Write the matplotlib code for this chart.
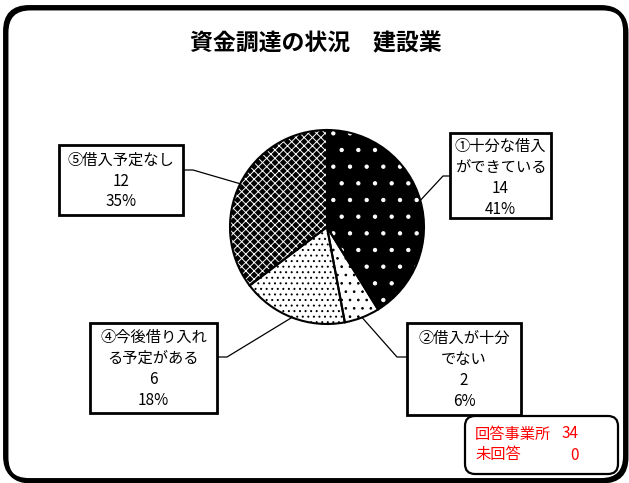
import matplotlib
matplotlib.use('Agg')
import matplotlib.pyplot as plt
from matplotlib.patches import Rectangle, FancyBboxPatch
import numpy as np

plt.rcParams['font.family'] = ['Noto Sans CJK JP', 'DejaVu Sans']
plt.rcParams['hatch.linewidth'] = 0.7

# data
title = '資金調達の状況　建設業'
categories = ['①十分な借入\nができている', '②借入が十分\nでない', '③借入できない',
              '④今後借り入れ\nる予定がある', '⑤借入予定なし']
counts = [14, 2, 0, 6, 12]
n_answered = 34
n_unanswered = 0

W, H = 629, 483


def py(y):
    # pixel row -> data y
    return H - y


fig = plt.figure(figsize=(W / 100, H / 100), dpi=100)
ax = fig.add_axes([0, 0, 1, 1])

# slice styles (face, hatch, hatch colour)
styles = {
    0: ('black', '.', 'white'),
    1: ('white', '..', 'black'),
    3: ('white', '...', 'black'),
    4: ('black', 'xxxx', 'white'),
}

idx = [i for i, c in enumerate(counts) if c > 0]
vals = [counts[i] for i in idx]
center = (327, py(227))
radius = 97

wedges, _ = ax.pie(vals, center=center, radius=radius, startangle=90,
                   counterclock=False, colors=[styles[i][0] for i in idx],
                   wedgeprops=dict(linewidth=0))
for w, i in zip(wedges, idx):
    w.set_hatch(styles[i][1])
    w.set_edgecolor(styles[i][2])
    w.set_linewidth(0)

outl, _ = ax.pie(vals, center=center, radius=radius, startangle=90,
                 counterclock=False, colors=['none'] * len(vals),
                 wedgeprops=dict(edgecolor='black', linewidth=1.5, fill=False))

ax.set_xlim(0, W)
ax.set_ylim(0, H)
ax.set_aspect('equal')
ax.axis('off')

# outer frame (with a slight shadow at bottom right)
for dx, dy in [(1.5, -1.5), (0, 0)]:
    ax.add_patch(FancyBboxPatch((5 + dx, py(480) + dy), 620, 473,
                                boxstyle='round,pad=0,rounding_size=24',
                                facecolor='none', edgecolor='black',
                                linewidth=2.8))

ax.text(316, py(44), title, ha='center', va='center', fontsize=16.5,
        fontweight='bold')

total = sum(counts)
# label boxes: (x0, y0, x1, y1), text centre y, elbow, box attach
boxes = {
    0: ((450, 133, 551, 218), 178, (443, 176), (450, 176)),
    1: ((407, 323, 521, 415), 370, (397, 357), (407, 357)),
    3: ((90, 323, 217, 413), 369, (227, 357), (217, 357)),
    4: ((59, 145, 183, 215), 181, (193, 170), (183, 170)),
}

for w, i in zip(outl, idx):
    (x0, y0, x1, y1), ty, elbow, att = boxes[i]
    ax.add_patch(Rectangle((x0, py(y1)), x1 - x0, y1 - y0, facecolor='white',
                           edgecolor='black', linewidth=2.0, zorder=3))
    name = categories[i]
    if i == 4:
        name = name.replace('\n', '')
    pct = round(counts[i] / total * 100)
    ax.text((x0 + x1) / 2, py(ty), f'{name}\n{counts[i]}\n{pct}%',
            ha='center', va='center', fontsize=11, linespacing=1.3,
            zorder=4)
    mid = np.deg2rad((w.theta1 + w.theta2) / 2)
    ex = center[0] + radius * np.cos(mid)
    ey = center[1] + radius * np.sin(mid)
    ax.plot([ex, elbow[0], att[0]], [ey, py(elbow[1]), py(att[1])],
            color='black', linewidth=0.9, zorder=2)

# answer count box
ax.add_patch(FancyBboxPatch((465, py(474)), 153, 58,
                            boxstyle='round,pad=0,rounding_size=10',
                            facecolor='white', edgecolor='black',
                            linewidth=1.6, zorder=3))
ax.text(475, py(434), '回答事業所', color='red', fontsize=11, va='center',
        zorder=4)
ax.text(579, py(434), str(n_answered), color='red', fontsize=11,
        va='center', ha='right', zorder=4)
ax.text(475, py(455), '未回答', color='red', fontsize=11, va='center',
        zorder=4)
ax.text(579, py(455), str(n_unanswered), color='red', fontsize=11,
        va='center', ha='right', zorder=4)

fig.savefig('out.png', dpi=100)
